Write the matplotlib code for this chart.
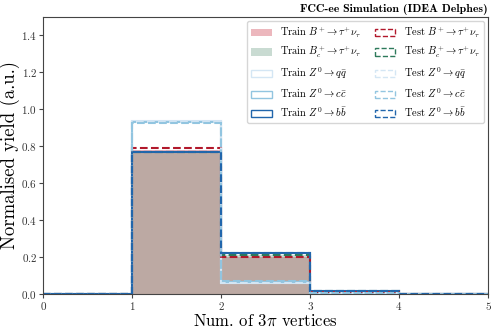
import matplotlib
matplotlib.use("Agg")
import matplotlib.pyplot as plt
import numpy as np

# ---------- Dane ----------
edges = [0, 1, 2, 3, 4, 5]
train_bu = [0.0, 0.78, 0.20, 0.015, 0.0]
train_bc = [0.0, 0.77, 0.21, 0.015, 0.0]
train_qq = [0.0, 0.935, 0.06, 0.005, 0.0]
train_cc = [0.0, 0.93, 0.065, 0.005, 0.0]
train_bb = [0.0, 0.765, 0.22, 0.015, 0.0]
test_bu = [0.0, 0.79, 0.20, 0.012, 0.0]
test_bc = [0.0, 0.77, 0.21, 0.015, 0.0]
test_qq = [0.0, 0.93, 0.06, 0.005, 0.0]
test_cc = [0.0, 0.925, 0.07, 0.005, 0.0]
test_bb = [0.0, 0.765, 0.22, 0.015, 0.0]

plt.rcParams["font.family"] = "serif"
plt.rcParams["font.serif"] = ["cmr10"]
plt.rcParams["mathtext.fontset"] = "cm"
plt.rcParams["axes.formatter.use_mathtext"] = True
plt.rcParams["axes.unicode_minus"] = False

centers = 0.5 * (np.array(edges[:-1]) + np.array(edges[1:]))

c_red = "#b2182b"
c_green = "#2d7a5b"
c_qq = "#d4e6f4"
c_cc = "#92c5e0"
c_bb = "#2166ac"

fig, ax = plt.subplots(figsize=(4.98, 3.32), dpi=100)

ax.hist(centers, bins=edges, weights=train_bu, histtype="stepfilled", color="#d6606d", alpha=0.45,
        label=r"Train $B^{+}\rightarrow\tau^{+}\nu_{\tau}$")
ax.hist(centers, bins=edges, weights=train_bc, histtype="stepfilled", color="#4d8a6a", alpha=0.3,
        label=r"Train $B_{c}^{+}\rightarrow\tau^{+}\nu_{\tau}$")
ax.hist(centers, bins=edges, weights=train_qq, histtype="step", color=c_qq, lw=1.5,
        label=r"Train $Z^{0}\rightarrow q\bar{q}$")
ax.hist(centers, bins=edges, weights=train_cc, histtype="step", color=c_cc, lw=1.5,
        label=r"Train $Z^{0}\rightarrow c\bar{c}$")
ax.hist(centers, bins=edges, weights=train_bb, histtype="step", color=c_bb, lw=1.5,
        label=r"Train $Z^{0}\rightarrow b\bar{b}$")

ax.hist(centers, bins=edges, weights=test_bu, histtype="step", color=c_red, lw=1.5, ls="--",
        label=r"Test $B^{+}\rightarrow\tau^{+}\nu_{\tau}$")
ax.hist(centers, bins=edges, weights=test_bc, histtype="step", color=c_green, lw=1.5, ls="--",
        label=r"Test $B_{c}^{+}\rightarrow\tau^{+}\nu_{\tau}$")
ax.hist(centers, bins=edges, weights=test_qq, histtype="step", color=c_qq, lw=1.5, ls="--",
        label=r"Test $Z^{0}\rightarrow q\bar{q}$")
ax.hist(centers, bins=edges, weights=test_cc, histtype="step", color=c_cc, lw=1.5, ls="--",
        label=r"Test $Z^{0}\rightarrow c\bar{c}$")
ax.hist(centers, bins=edges, weights=test_bb, histtype="step", color=c_bb, lw=1.5, ls="--",
        label=r"Test $Z^{0}\rightarrow b\bar{b}$")

ax.set_xlim(0, 5)
ax.set_ylim(0, 1.5)
ax.set_yticks(np.arange(0, 1.41, 0.2))
ax.set_xticks(range(6))
ax.tick_params(labelsize=8, length=3, pad=1.5, color="#444444", labelcolor="#333333")
for s in ax.spines.values():
    s.set_color("#444444")

ax.set_xlabel(r"Num. of $3\pi$ vertices", fontsize=12, labelpad=1)
ax.set_ylabel("Normalised yield (a.u.)", fontsize=13.5, labelpad=1)
ax.set_title("FCC-ee Simulation (IDEA Delphes)", loc="right", fontsize=8.5,
             fontfamily="cmb10", pad=3)

leg = ax.legend(ncol=2, loc="upper right", fontsize=7.5, frameon=True, framealpha=0.8,
                handlelength=2.0, columnspacing=1.3, labelspacing=0.5,
                borderaxespad=0.4)
for h in leg.legend_handles:
    h.set_linewidth(1.0)

plt.subplots_adjust(left=0.087, right=0.98, top=0.95, bottom=0.115)
plt.savefig("out.png")
